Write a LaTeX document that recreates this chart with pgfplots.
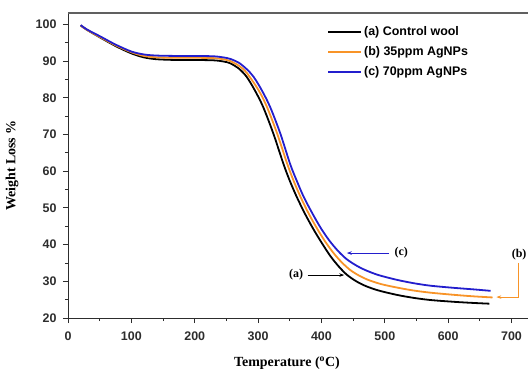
\documentclass[border=0pt]{standalone}
\usepackage{fontspec}
\setmainfont{Liberation Serif}
\setsansfont{Liberation Sans}
\usepackage{pgfplots}
\pgfplotsset{compat=1.18}
\usetikzlibrary{arrows.meta}
\definecolor{cblue}{RGB}{35,30,205}
\definecolor{corange}{RGB}{248,148,40}
\definecolor{tickgray}{RGB}{45,45,45}
\begin{document}
\begin{tikzpicture}
\useasboundingbox (-68bp,-53bp) rectangle (460bp,318bp);
\begin{axis}[
  scale only axis, width=460bp, height=305bp,
  xmin=0, xmax=726, ymin=20, ymax=103.1,
  axis x line*=bottom, axis y line*=left,
  x axis line style={-, line width=0.9bp, tickgray},
  y axis line style={-, line width=0.9bp, tickgray},
  xtick={0,100,...,700}, ytick={20,30,...,100},
  minor x tick num=1, minor y tick num=1,
  tick align=outside,
  major tick length=5bp, minor tick length=3bp,
  every tick/.style={tickgray, line width=0.8bp},
  tick label style={font=\sffamily\bfseries\fontsize{12.5}{12.5}\selectfont, text=tickgray},
  /pgf/number format/assume math mode=true,
  xticklabel style={yshift=-5bp},
  yticklabel style={xshift=-3bp},
  xlabel={Temperature (\textsuperscript{o}C)},
  ylabel={Weight Loss \%},
  label style={font=\bfseries\fontsize{14}{14}\selectfont},
  xlabel style={at={(axis description cs:0.476,0)}, anchor=center, yshift=-45bp},
  ylabel style={at={(axis description cs:0,0.5)}, anchor=center, yshift=56bp, xshift=0bp},
  legend style={at={(rel axis cs:0.563,0.963)}, anchor=north west, draw=none, fill=none,
    font=\sffamily\bfseries\fontsize{12.5}{14}\selectfont, row sep=5.5bp, inner sep=0pt},
  legend cell align=left,
  legend image code/.code={\draw[#1, line width=2bp] (0bp,0bp) -- (33bp,0bp);},
  clip=false,
]
\draw[gray!75!black, line width=1.6bp] (rel axis cs:0,1) -- (rel axis cs:1,1);
\addplot[black, line width=1.8bp, smooth, tension=0.5] coordinates {
(20,99.7)(30,98.5)(50,96.5)(75,94.1)(100,92.1)(120,91.0)(140,90.5)(170,90.3)(200,90.3)(230,90.2)(245,89.9)(256,89.4)(270,87.9)(282,85.7)(295,82.0)(308,77.5)(324,70.3)(340,62.0)(350,57.4)(361,53.0)(374,48.4)(387,44.3)(400,40.6)(414,36.9)(427,34.1)(440,31.8)(455,30.0)(470,28.7)(490,27.5)(519,26.3)(545,25.5)(572,24.9)(610,24.4)(640,24.1)(665,23.9)};
\addlegendentry{(a) Control wool}
\addplot[corange, line width=1.8bp, smooth, tension=0.5] coordinates {
(20,99.7)(30,98.5)(50,96.6)(75,94.3)(100,92.4)(120,91.4)(140,91.0)(170,90.9)(200,90.9)(230,90.8)(245,90.5)(256,90.0)(270,88.7)(282,86.8)(301,82.0)(314,77.5)(330,70.3)(346,62.0)(356,57.4)(367,53.0)(380,48.4)(393,44.4)(406,40.8)(420,37.5)(433,35.0)(446,33.0)(460,31.5)(475,30.3)(495,29.2)(519,28.3)(545,27.5)(572,26.9)(610,26.3)(640,25.9)(670,25.6)};
\addlegendentry{(b) 35ppm AgNPs}
\addplot[cblue, line width=1.8bp, smooth, tension=0.5] coordinates {
(20,99.8)(30,98.6)(50,96.8)(75,94.5)(100,92.6)(120,91.8)(140,91.5)(170,91.4)(200,91.4)(230,91.3)(245,91.0)(256,90.6)(270,89.5)(282,87.8)(293,85.7)(306,82.0)(319,77.5)(335,70.3)(350.5,62.0)(361,57.4)(372,53.0)(386,48.4)(399,44.5)(412,41.2)(426,38.3)(440,36.0)(455,34.3)(470,33.0)(490,31.7)(519,30.4)(545,29.5)(572,28.8)(610,28.2)(640,27.8)(667,27.4)};
\addlegendentry{(c) 70ppm AgNPs}
\node[font=\bfseries\fontsize{12}{12}\selectfont] at (axis cs:360,31.7) {(a)};
\draw[black, line width=0.7bp, -{Stealth[length=5bp,width=3.5bp]}] (axis cs:378,31.7) -- (axis cs:436,31.7);
\node[font=\bfseries\fontsize{12}{12}\selectfont] at (axis cs:526,37.7) {(c)};
\draw[cblue, line width=0.7bp, -{Stealth[length=5bp,width=3.5bp]}] (axis cs:507,37.7) -- (axis cs:440,37.7);
\node[font=\bfseries\fontsize{12}{12}\selectfont] at (axis cs:712,37.3) {(b)};
\draw[corange, line width=0.7bp, -{Stealth[length=5bp,width=3.5bp]}] (axis cs:711,35.0) -- (axis cs:711,25.7) -- (axis cs:676,25.7);
\end{axis}
\end{tikzpicture}
\end{document}
